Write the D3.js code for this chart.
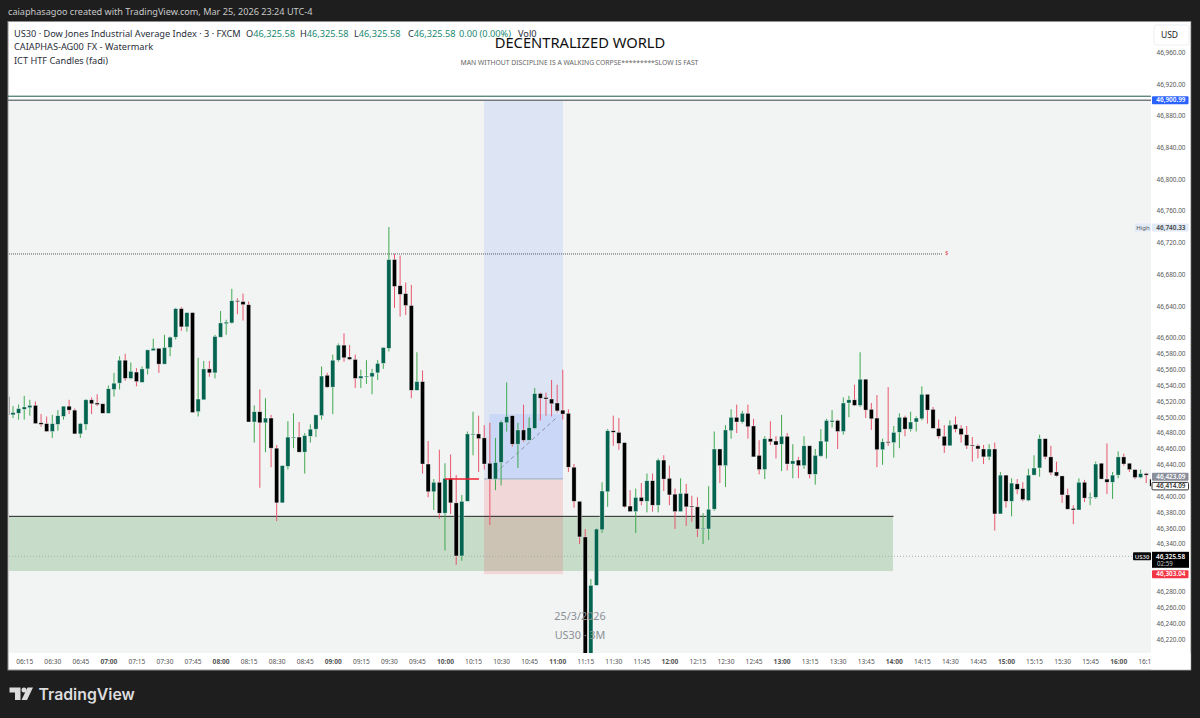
<!DOCTYPE html>
<html>
<head>
<meta charset="utf-8">
<title>US30 3M</title>
<script src="https://cdnjs.cloudflare.com/ajax/libs/d3/7.8.5/d3.min.js"></script>
<style>
  html, body { margin: 0; padding: 0; background: #1e1e1e; overflow: hidden; }
  text { font-family: "Noto Sans", sans-serif; }
</style>
</head>
<body>
<div id="chart"></div>
<script>
// Candle values, one entry per 3 minute bar, first bar 06:06
const opens = [
  46527,46504,46506,46511,46513,46516,46494,46493,46483,46492,
  46502,46515,46510,46480,46492,46523,46519,46518,46506,46536,
  46544,46573,46550,46558,46545,46562,46585,46588,46568,46589,
  46602,46638,46615,46633,46508,46523,46562,46557,46602,46619,
  46620,46648,46647,46643,46495,46508,46494,46500,46462,46393,
  46439,46475,46476,46457,46477,46486,46503,46554,46539,46573,
  46592,46577,46574,46550,46552,46552,46557,46569,46588,46700,
  46667,46657,46642,46535,46546,46442,46407,46419,46380,46424,
  46393,46326,46395,46479,46480,46475,46443,46423,46444,46494,
  46503,46467,46485,46472,46487,46531,46526,46524,46519,46510,
  46506,46438,46395,46350,46174,46289,46359,46407,46484,46482,
  46469,46389,46382,46400,46395,46421,46390,46447,46424,46404,
  46382,46405,46389,46388,46360,46360,46385,46461,46440,46484,
  46501,46495,46506,46490,46453,46435,46474,46471,46467,46477,
  46442,46447,46440,46465,46429,46452,46470,46495,46497,46483,
  46519,46523,46516,46549,46511,46500,46460,46470,46469,46482,
  46501,46486,46495,46499,46530,46511,46487,46477,46465,46492,
  46487,46479,46466,46465,46461,46451,46461,46379,46428,46395,
  46417,46411,46396,46428,46437,46474,46451,46432,46427,46403,
  46386,46384,46419,46399,46400,46443,46423,46419,46428,46451,
  46443,46435,46425,46430,46423];
const highs = [
  46527,46515,46517,46528,46523,46521,46505,46502,46504,46510,
  46515,46523,46512,46494,46524,46526,46530,46518,46541,46557,
  46578,46581,46570,46563,46565,46586,46600,46588,46605,46603,
  46639,46640,46633,46633,46576,46572,46572,46605,46635,46624,
  46663,46651,46657,46647,46516,46536,46525,46504,46466,46440,
  46496,46506,46495,46481,46492,46504,46565,46557,46580,46594,
  46607,46592,46580,46561,46573,46562,46573,46589,46741,46707,
  46705,46671,46668,46583,46560,46471,46423,46460,46443,46454,
  46428,46403,46483,46508,46503,46491,46494,46475,46497,46545,
  46503,46494,46517,46501,46538,46532,46532,46548,46542,46561,
  46511,46442,46395,46360,46297,46361,46419,46486,46503,46500,
  46469,46409,46411,46418,46430,46430,46449,46453,46440,46411,
  46424,46417,46402,46400,46380,46414,46483,46461,46491,46511,
  46517,46509,46517,46499,46472,46477,46496,46477,46504,46481,
  46467,46451,46477,46465,46461,46486,46499,46510,46498,46526,
  46528,46542,46583,46549,46519,46529,46474,46539,46490,46506,
  46503,46508,46502,46540,46530,46514,46498,46491,46497,46502,
  46491,46490,46476,46467,46466,46467,46469,46432,46428,46424,
  46423,46419,46436,46453,46479,46474,46465,46445,46427,46411,
  46390,46424,46422,46406,46445,46443,46468,46432,46458,46455,
  46443,46435,46435,46431,46423];
const lows = [
  46504,46500,46498,46498,46503,46493,46489,46483,46475,46484,
  46498,46505,46480,46475,46485,46505,46515,46506,46506,46527,
  46536,46547,46549,46540,46545,46555,46585,46557,46568,46578,
  46599,46610,46609,46507,46502,46523,46552,46550,46602,46605,
  46619,46631,46623,46495,46469,46412,46457,46438,46370,46393,
  46435,46462,46457,46430,46469,46476,46498,46538,46505,46571,
  46571,46573,46538,46538,46543,46530,46548,46562,46584,46639,
  46628,46630,46525,46535,46430,46400,46384,46373,46333,46379,
  46315,46320,46395,46453,46432,46435,46365,46409,46415,46483,
  46464,46437,46470,46472,46486,46497,46503,46502,46507,46498,
  46432,46387,46341,46170,46170,46289,46355,46388,46465,46460,
  46387,46382,46355,46390,46381,46382,46381,46408,46390,46360,
  46382,46364,46369,46350,46341,46346,46383,46418,46413,46474,
  46481,46493,46474,46451,46429,46423,46466,46449,46433,46434,
  46424,46424,46436,46424,46416,46451,46449,46488,46461,46479,
  46501,46515,46514,46500,46485,46438,46441,46465,46450,46462,
  46477,46483,46483,46497,46493,46487,46474,46456,46465,46482,
  46469,46461,46445,46449,46442,46447,46358,46379,46387,46376,
  46404,46395,46395,46428,46426,46448,46428,46426,46393,46385,
  46366,46384,46394,46390,46398,46423,46404,46398,46424,46440,
  46432,46423,46424,46418,46414];
const closes = [
  46504,46507,46512,46514,46516,46493,46492,46483,46493,46503,
  46515,46510,46480,46493,46523,46518,46517,46506,46537,46544,
  46573,46550,46559,46546,46562,46586,46588,46568,46589,46602,
  46638,46615,46633,46507,46524,46562,46557,46603,46620,46621,
  46648,46647,46643,46495,46508,46494,46500,46462,46393,46440,
  46476,46476,46457,46478,46486,46504,46553,46539,46573,46592,
  46576,46574,46550,46553,46553,46557,46569,46589,46700,46666,
  46656,46642,46535,46546,46442,46407,46419,46380,46424,46393,
  46326,46395,46480,46480,46474,46442,46423,46444,46495,46502,
  46467,46485,46472,46488,46531,46525,46524,46518,46509,46505,
  46438,46395,46350,46174,46289,46360,46408,46484,46482,46468,
  46388,46382,46400,46395,46421,46390,46447,46423,46403,46382,
  46405,46388,46388,46360,46361,46385,46461,46440,46485,46501,
  46495,46506,46489,46451,46435,46474,46470,46466,46477,46442,
  46446,46440,46465,46429,46453,46471,46497,46497,46483,46519,
  46523,46516,46549,46510,46499,46460,46470,46469,46482,46501,
  46486,46495,46500,46530,46510,46487,46477,46465,46491,46486,
  46479,46465,46465,46461,46451,46461,46379,46428,46395,46418,
  46410,46397,46428,46437,46474,46451,46431,46427,46403,46385,
  46384,46419,46399,46400,46442,46423,46419,46428,46451,46442,
  46435,46425,46430,46428,46414];

// Price axis ticks
const priceTicks = [46960,46920,46880,46840,46800,46760,46720,46680,46640,46600,46580,46560,46540,46520,46500,
  46480,46460,46440,46400,46380,46360,46340,46280,46260,46240,46220];

// Time axis ticks
const timeTicks = ["06:15","06:30","06:45","07:00","07:15","07:30","07:45","08:00","08:15","08:30","08:45",
  "09:00","09:15","09:30","09:45","10:00","10:15","10:30","10:45","11:00","11:15","11:30","11:45",
  "12:00","12:15","12:30","12:45","13:00","13:15","13:30","13:45","14:00","14:15","14:30","14:45",
  "15:00","15:15","15:30","15:45","16:00","16:15"];

// Price levels and drawing anchors
const topLevel = 46900.99, greenLine = 46906, sessionHigh = 46740.33, liquidityLevel = 46707;
const entryPrice = 46423.09, stopPrice = 46303.04, lastPrice = 46325.58, askPrice = 46414.09;
const zoneTop = 46376, zoneBottom = 46307, innerBoxTop = 46505;

const W = 1200, H = 718;
const plot = { left: 9, right: 1151, top: 101, bottom: 653 };

const parseTime = d3.timeParse("%H:%M");
const firstBar = parseTime("06:06");
const barTime = i => d3.timeMinute.offset(firstBar, i * 3);

const x = d3.scaleTime()
    .domain([firstBar, barTime(204)])
    .range([7.4, 7.4 + 5.61 * 204]);
const y = d3.scaleLinear()
    .domain([46960, 46220])
    .range([53.4, 640]);

const svg = d3.select("#chart").append("svg")
    .attr("width", W)
    .attr("height", H)
    .style("display", "block");

svg.append("defs").append("clipPath").attr("id", "plot-clip")
  .append("rect")
    .attr("x", plot.left).attr("y", plot.top)
    .attr("width", plot.right - plot.left).attr("height", plot.bottom - plot.top);

// Panel
svg.append("rect").attr("x", 8).attr("y", 21.5).attr("width", 1183).attr("height", 648.5)
    .attr("fill", "#fff").attr("stroke", "#8f8f8f").attr("stroke-width", 1);
svg.append("rect").attr("x", plot.left).attr("y", plot.top)
    .attr("width", plot.right - plot.left).attr("height", plot.bottom - plot.top)
    .attr("fill", "#f2f4f4");

const g = svg.append("g").attr("clip-path", "url(#plot-clip)");

// Green demand zone
g.append("rect")
    .attr("x", plot.left).attr("width", 893 - plot.left)
    .attr("y", y(zoneTop)).attr("height", y(zoneBottom) - y(zoneTop))
    .attr("fill", "rgba(56,142,60,0.23)");

// Risk/reward boxes
const rrLeft = x(barTime(85)) - 0.2, rrRight = 563;
g.append("rect")
    .attr("x", rrLeft).attr("width", rrRight - rrLeft)
    .attr("y", y(topLevel)).attr("height", y(entryPrice) - y(topLevel))
    .attr("fill", "rgba(41,98,255,0.1)");
g.append("rect")
    .attr("x", rrLeft + 5.4).attr("width", rrRight - rrLeft - 5.4)
    .attr("y", y(innerBoxTop)).attr("height", y(entryPrice) - y(innerBoxTop))
    .attr("fill", "rgba(41,98,255,0.1)");
g.append("rect")
    .attr("x", rrLeft).attr("width", rrRight - rrLeft)
    .attr("y", y(entryPrice) + 1).attr("height", y(stopPrice) - y(entryPrice) - 1)
    .attr("fill", "rgba(242,54,69,0.15)");
g.append("line")
    .attr("x1", rrLeft).attr("x2", rrRight)
    .attr("y1", y(entryPrice)).attr("y2", y(entryPrice))
    .attr("stroke", "#9aa0b0").attr("stroke-width", 1.2);
g.append("line")
    .attr("x1", x(barTime(87))).attr("x2", x(barTime(98)))
    .attr("y1", y(entryPrice) - 6).attr("y2", y(46505) + 3)
    .attr("stroke", "#8f96a3").attr("stroke-width", 1).attr("stroke-dasharray", "4 3");

// Watermark
const mark = svg.append("g").attr("fill", "#8a8f94").attr("text-anchor", "middle").style("font-size", "10.8px");
mark.append("text").attr("x", 580).attr("y", 620).text("25/3/2026");
mark.append("text").attr("x", 580).attr("y", 639).text("US30 · 3M");

// Levels
g.append("line").attr("x1", plot.left).attr("x2", 942)
    .attr("y1", y(liquidityLevel)).attr("y2", y(liquidityLevel))
    .attr("stroke", "#55585c").attr("stroke-width", 1).attr("stroke-dasharray", "1 1");
g.append("line").attr("x1", plot.left).attr("x2", 1133)
    .attr("y1", y(lastPrice)).attr("y2", y(lastPrice))
    .attr("stroke", "#a5b0a8").attr("stroke-width", 1).attr("stroke-dasharray", "1 2");
g.append("line").attr("x1", plot.left).attr("x2", 893.5)
    .attr("y1", y(zoneTop)).attr("y2", y(zoneTop))
    .attr("stroke", "#222").attr("stroke-width", 1);
svg.append("text").attr("x", 945).attr("y", 255).attr("fill", "#e8455a").style("font-size", "6px").text("$");

// Candles
const candles = d3.range(opens.length).map(i => ({ i, t: barTime(i), o: opens[i], h: highs[i], l: lows[i], c: closes[i] }));
const isUp = d => d.c >= d.o;

g.selectAll(".wick").data(candles).enter().append("line")
    .attr("class", "wick")
    .attr("x1", d => x(d.t)).attr("x2", d => x(d.t))
    .attr("y1", d => y(d.h)).attr("y2", d => y(d.l))
    .attr("stroke", d => isUp(d) ? "#3fa94f" : "#e8566c")
    .attr("stroke-width", 1);

g.selectAll(".body").data(candles).enter().append("rect")
    .attr("class", "body")
    .attr("x", d => x(d.t) - 2.1)
    .attr("width", 4.2)
    .attr("y", d => y(Math.max(d.o, d.c)))
    .attr("height", d => Math.max(1, Math.abs(y(d.o) - y(d.c))))
    .attr("fill", d => isUp(d) ? "#05644f" : "#000")
    .attr("stroke", "#fff")
    .attr("stroke-opacity", 0.65)
    .attr("stroke-width", 0.6);

// Red marker line on top of the candles
g.append("line").attr("x1", 445).attr("x2", 479)
    .attr("y1", y(entryPrice)).attr("y2", y(entryPrice))
    .attr("stroke", "#f0202f").attr("stroke-width", 1.3);

// Top target lines, run across the plot
svg.append("line").attr("x1", 8).attr("x2", 1151)
    .attr("y1", y(greenLine)).attr("y2", y(greenLine))
    .attr("stroke", "#1c5a4b").attr("stroke-width", 1);
svg.append("line").attr("x1", 8).attr("x2", 1151)
    .attr("y1", y(topLevel)).attr("y2", y(topLevel))
    .attr("stroke", "#777b80").attr("stroke-width", 1.4);

// Price axis
const yAxis = d3.axisRight(y)
    .tickValues(priceTicks)
    .tickSize(0)
    .tickFormat(d3.format(",.2f"));
const yG = svg.append("g").attr("transform", `translate(${plot.right},0)`).call(yAxis);
yG.select(".domain").remove();
yG.selectAll("text")
    .attr("x", 34.5)
    .attr("dy", "0.16em")
    .attr("text-anchor", "end")
    .attr("fill", "#555")
    .style("font-size", "6.4px");

// Time axis
const xAxis = d3.axisBottom(x)
    .tickValues(timeTicks.map(parseTime))
    .tickSize(0)
    .tickFormat(d3.timeFormat("%H:%M"));
const xG = svg.append("g").attr("transform", `translate(0,${plot.bottom})`).call(xAxis);
xG.select(".domain").remove();
xG.selectAll("text")
    .attr("y", 6)
    .attr("fill", "#555")
    .style("font-size", "6.6px")
    .style("font-weight", d => d.getMinutes() === 0 ? 700 : 400);

// Cut the last time label at the panel edge of the axis
svg.append("rect").attr("x", plot.right).attr("y", plot.bottom).attr("width", 39.5).attr("height", 16.5).attr("fill", "#fff");

// USD button
svg.append("rect").attr("x", 1154).attr("y", 25).attr("width", 35).attr("height", 20).attr("rx", 3)
    .attr("fill", "#fff").attr("stroke", "#eceff2");
svg.append("text").attr("x", 1169.5).attr("y", 38).attr("text-anchor", "middle").attr("fill", "#222")
    .style("font-size", "8.5px").text("USD");

// Price labels on the axis
function priceTag(value, py, h, fill, color, stroke) {
  svg.append("rect").attr("x", 1152).attr("y", py - h / 2).attr("width", 36.5).attr("height", h)
      .attr("fill", fill).attr("stroke", stroke || "none").attr("rx", 1);
  svg.append("text").attr("x", 1185.5).attr("y", py + 2.3).attr("text-anchor", "end")
      .attr("fill", color).style("font-size", "6.4px").style("font-weight", 600)
      .text(d3.format(",.2f")(value));
}
priceTag(topLevel, y(topLevel), 8, "#2962ff", "#fff");
priceTag(sessionHigh, y(sessionHigh), 8, "#e1eaf6", "#444");
priceTag(entryPrice, y(entryPrice) - 2.2, 8, "#8b8f9c", "#fff");
priceTag(askPrice, y(askPrice), 7.5, "#fff", "#333", "#333");
priceTag(stopPrice, y(stopPrice), 8, "#f23645", "#fff");

svg.append("rect").attr("x", 1135).attr("y", y(sessionHigh) - 4).attr("width", 16).attr("height", 8).attr("fill", "#e1eaf6");
svg.append("text").attr("x", 1143).attr("y", y(sessionHigh) + 2.2).attr("text-anchor", "middle")
    .attr("fill", "#555").style("font-size", "6px").text("High");

// Last price block
svg.append("rect").attr("x", 1133).attr("y", y(lastPrice) - 4).attr("width", 18).attr("height", 8).attr("rx", 1).attr("fill", "#0a0a0a");
svg.append("text").attr("x", 1142).attr("y", y(lastPrice) + 2.2).attr("text-anchor", "middle")
    .attr("fill", "#ddd").style("font-size", "6px").style("font-weight", 600).text("US30");
svg.append("rect").attr("x", 1152).attr("y", y(lastPrice) - 4.5).attr("width", 37).attr("height", 16).attr("fill", "#000");
svg.append("text").attr("x", 1156).attr("y", y(lastPrice) + 2.2).attr("fill", "#fff")
    .style("font-size", "6.4px").style("font-weight", 600).text(d3.format(",.2f")(lastPrice));
svg.append("text").attr("x", 1157).attr("y", y(lastPrice) + 9.6).attr("fill", "#ccc")
    .style("font-size", "6.2px").text("02:59");

// Header and legend
svg.append("text").attr("x", 8).attr("y", 15).attr("fill", "#c8c8c8")
    .style("font-size", "9.15px").text("caiaphasagoo created with TradingView.com, Mar 25, 2026 23:24 UTC-4");

const legendColor = "#2a2e39", legendValue = "#1a8a72", legendSize = "9.2px";
const legendBase = 36.5;
svg.append("text").attr("x", 14).attr("y", legendBase).attr("fill", legendColor).style("font-size", legendSize)
    .text("US30 · Dow Jones Industrial Average Index · 3 · FXCM");
[["O", 246], ["H", 300], ["L", 354], ["C", 408]].forEach(([k, px]) => {
  const t = svg.append("text").attr("x", px).attr("y", legendBase).attr("fill", legendColor).style("font-size", legendSize);
  t.append("tspan").text(k);
  t.append("tspan").attr("fill", legendValue).text(d3.format(",.2f")(lastPrice));
});
svg.append("text").attr("x", 459).attr("y", legendBase).attr("fill", legendValue).style("font-size", legendSize).text("0.00 (0.00%)");
svg.append("text").attr("x", 518).attr("y", legendBase).attr("fill", legendColor).style("font-size", legendSize).text("Vol0");
svg.append("text").attr("x", 14).attr("y", 50).attr("fill", legendColor).style("font-size", legendSize).text("CAIAPHAS-AG00");
svg.append("text").attr("x", 87).attr("y", 50).attr("fill", legendColor).style("font-size", legendSize).text("FX - Watermark");
svg.append("text").attr("x", 14).attr("y", 63.5).attr("fill", legendColor).style("font-size", legendSize).text("ICT HTF Candles (fadi)");

// Titles
svg.append("text").attr("x", 580).attr("y", 48).attr("text-anchor", "middle").attr("fill", "#111")
    .style("font-size", "14.7px").text("DECENTRALIZED WORLD");
svg.append("text").attr("x", 579.5).attr("y", 65).attr("text-anchor", "middle").attr("fill", "#666")
    .style("font-size", "6.8px").text("MAN WITHOUT DISCIPLINE IS A WALKING CORPSE*********SLOW IS FAST");

// Right edge of the screenshot frame
svg.append("rect").attr("x", 1191.5).attr("y", 21).attr("width", 8.5).attr("height", 650).attr("fill", "#1e1e1e");

// TradingView logo
const logo = svg.append("g").attr("transform", "translate(9.5,687.5)").attr("fill", "#dcdcdc");
logo.append("path").attr("d", "M0 0H11V12.5H5.5V5H0Z");
logo.append("circle").attr("cx", 14.5).attr("cy", 2.6).attr("r", 2.5);
logo.append("path").attr("d", "M18 0H23.5L17.5 12.5H12Z");
svg.append("text").attr("x", 38.5).attr("y", 700).attr("fill", "#dcdcdc")
    .style("font-family", "Inter, sans-serif").style("font-size", "15.8px").style("font-weight", 600)
    .text("TradingView");
</script>
</body>
</html>
